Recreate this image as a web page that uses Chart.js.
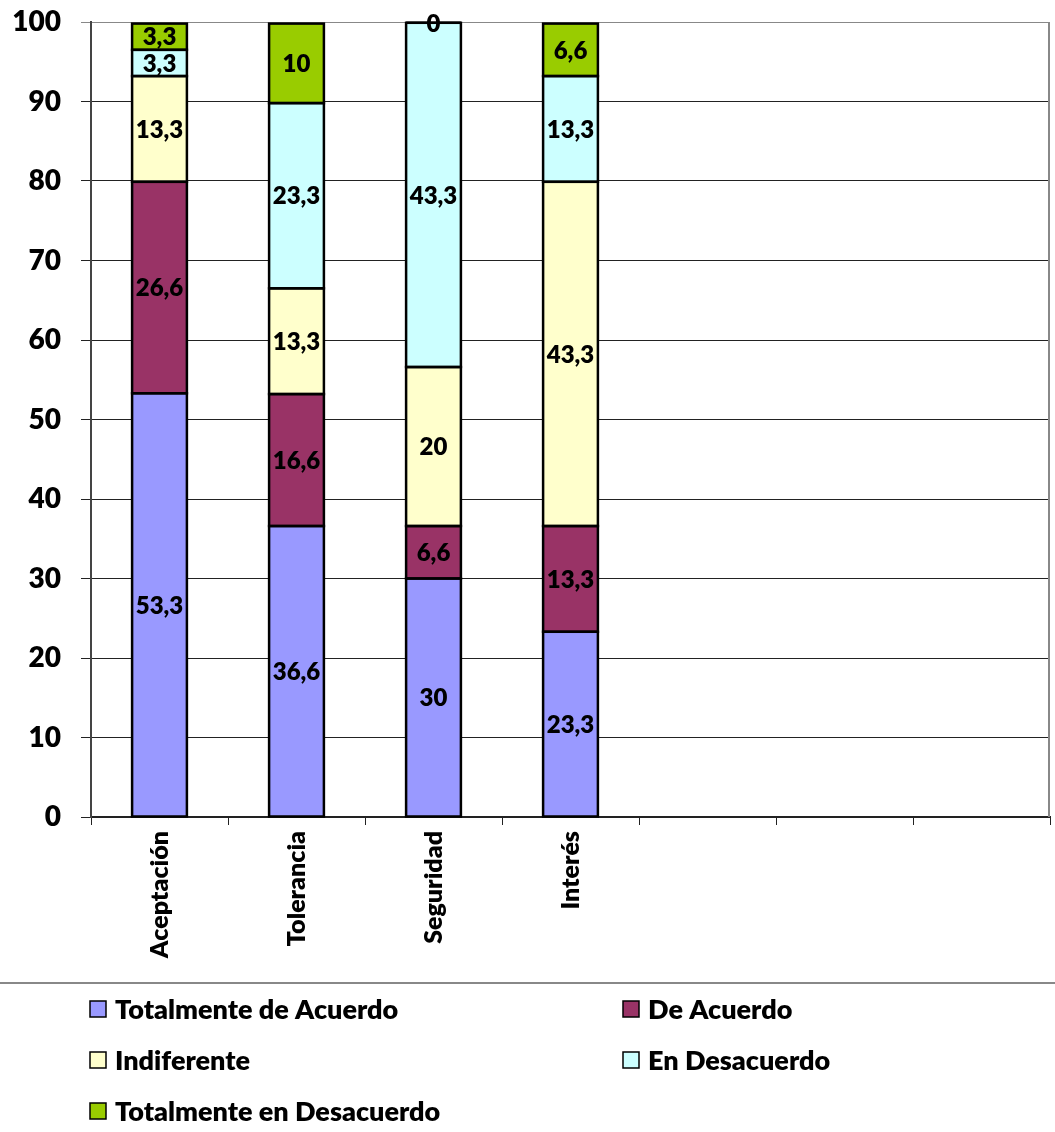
<!DOCTYPE html>
<html>
<head>
<meta charset="utf-8">
<script src="https://cdn.jsdelivr.net/npm/chart.js@4.4.1/dist/chart.umd.min.js"></script>
<style>
  html, body { margin: 0; padding: 0; background: #ffffff; }
  #wrap { width: 1055px; height: 1132px; position: relative; }
</style>
</head>
<body>
<div id="wrap"><canvas id="c"></canvas></div>
<script>
// Categories (the last three slots are empty on the axis)
const categories = ['Aceptación', 'Tolerancia', 'Seguridad', 'Interés', '', '', ''];

// Percentages per response
const totalmenteDeAcuerdo    = [53.3, 36.6, 30,   23.3];
const deAcuerdo              = [26.6, 16.6, 6.6,  13.3];
const indiferente            = [13.3, 13.3, 20,   43.3];
const enDesacuerdo           = [3.3,  23.3, 43.3, 13.3];
const totalmenteEnDesacuerdo = [3.3,  10,   0,    6.6];

const seriesNames  = ['Totalmente de Acuerdo', 'De Acuerdo', 'Indiferente', 'En Desacuerdo', 'Totalmente en Desacuerdo'];
const seriesValues = [totalmenteDeAcuerdo, deAcuerdo, indiferente, enDesacuerdo, totalmenteEnDesacuerdo];
const seriesColors = ['#9999FF', '#993366', '#FFFFCC', '#CCFFFF', '#99CC00'];

const yMin = 0, yMax = 100, yStep = 10;

const FONT = 'Lato, "Open Sans", sans-serif';
const WEIGHT = '800';

const fmt = v => String(v).replace('.', ',');

// Black outline around every stacked segment, centred on its edges
const segmentOutline = {
  id: 'segmentOutline',
  afterDatasetsDraw(chart) {
    const ctx = chart.ctx;
    ctx.save();
    ctx.strokeStyle = '#000';
    ctx.lineWidth = 2.5;
    chart.data.datasets.forEach((ds, di) => {
      chart.getDatasetMeta(di).data.forEach((el, i) => {
        if (ds.data[i] === undefined || ds.data[i] === null) return;
        const { x, y, base, width } = el.getProps(['x', 'y', 'base', 'width'], true);
        const top = Math.min(y, base), h = Math.abs(base - y);
        ctx.strokeRect(x - width / 2, top, width, h);
      });
    });
    ctx.restore();
  }
};

// Value labels centred in each stacked segment
const valueLabels = {
  id: 'valueLabels',
  afterDatasetsDraw(chart) {
    const ctx = chart.ctx;
    ctx.save();
    ctx.font = WEIGHT + ' 24px ' + FONT;
    ctx.fillStyle = '#000';
    ctx.textAlign = 'center';
    ctx.textBaseline = 'middle';
    chart.data.datasets.forEach((ds, di) => {
      const meta = chart.getDatasetMeta(di);
      meta.data.forEach((el, i) => {
        const v = ds.data[i];
        if (v === undefined || v === null) return;
        ctx.fillText(fmt(v), el.x, (el.y + el.base) / 2 + 1);
      });
    });
    ctx.restore();
  }
};

// Plot-area frame on the right side
const frame = {
  id: 'frame',
  beforeDatasetsDraw(chart) {
    const { ctx, chartArea } = chart;
    ctx.save();
    ctx.strokeStyle = '#888';
    ctx.lineWidth = 2;
    ctx.beginPath();
    ctx.moveTo(chartArea.right - 1, chartArea.top);
    ctx.lineTo(chartArea.right - 1, chartArea.bottom);
    ctx.stroke();
    ctx.restore();
  }
};

// Two-column legend under a separator line
const bottomLegend = {
  id: 'bottomLegend',
  afterDraw(chart) {
    const ctx = chart.ctx;
    const W = chart.width;
    ctx.save();
    ctx.strokeStyle = '#888';
    ctx.lineWidth = 2;
    ctx.beginPath();
    ctx.moveTo(0, 983);
    ctx.lineTo(W, 983);
    ctx.stroke();

    const cols = [90, 623];
    const rowY = [1009, 1060, 1111];
    const box = 16;
    ctx.font = WEIGHT + ' 27px ' + FONT;
    ctx.textAlign = 'left';
    ctx.textBaseline = 'middle';
    chart.data.datasets.forEach((ds, i) => {
      const x = cols[i % 2];
      const y = rowY[Math.floor(i / 2)];
      ctx.fillStyle = ds.backgroundColor;
      ctx.fillRect(x, y - box / 2, box, box);
      ctx.strokeStyle = '#000';
      ctx.lineWidth = 1.5;
      ctx.strokeRect(x, y - box / 2, box, box);
      ctx.fillStyle = '#000';
      ctx.fillText(ds.label, x + 25, y + 1);
    });
    ctx.restore();
  }
};

const datasets = seriesNames.map((name, i) => ({
  label: name,
  data: seriesValues[i],
  backgroundColor: seriesColors[i],
  borderWidth: 0,
  inflateAmount: 0,
  barPercentage: 0.4,
  categoryPercentage: 1.0
}));

new Chart(document.getElementById('c'), {
  type: 'bar',
  data: { labels: categories, datasets },
  plugins: [frame, segmentOutline, valueLabels, bottomLegend],
  options: {
    responsive: true,
    maintainAspectRatio: false,
    animation: false,
    devicePixelRatio: 1,
    layout: { padding: { top: 22, right: 5, bottom: 162, left: 0 } },
    plugins: { legend: { display: false }, tooltip: { enabled: false } },
    scales: {
      x: {
        stacked: true,
        afterFit(scale) { scale.height = 153; },
        grid: {
          display: true,
          drawOnChartArea: false,
          drawTicks: true,
          tickLength: 8,
          color: '#222',
          offset: true
        },
        border: { display: true, color: '#222', width: 2 },
        ticks: {
          autoSkip: false,
          minRotation: 90,
          maxRotation: 90,
          padding: 6,
          color: '#000',
          font: { family: FONT, size: 25, weight: WEIGHT }
        }
      },
      y: {
        stacked: true,
        min: yMin,
        max: yMax,
        afterFit(scale) {
          scale.width = 91;
          scale.paddingTop = 0;
          scale.paddingBottom = 0;
        },
        grid: {
          color: ctx => (ctx.tick && ctx.tick.value === yMax) ? '#888' : '#222',
          lineWidth: 1,
          tickLength: 10
        },
        border: { display: true, color: '#444', width: 2 },
        ticks: {
          stepSize: yStep,
          padding: 20,
          color: '#000',
          font: { family: FONT, size: 28, weight: WEIGHT }
        }
      }
    }
  }
});
</script>
</body>
</html>
